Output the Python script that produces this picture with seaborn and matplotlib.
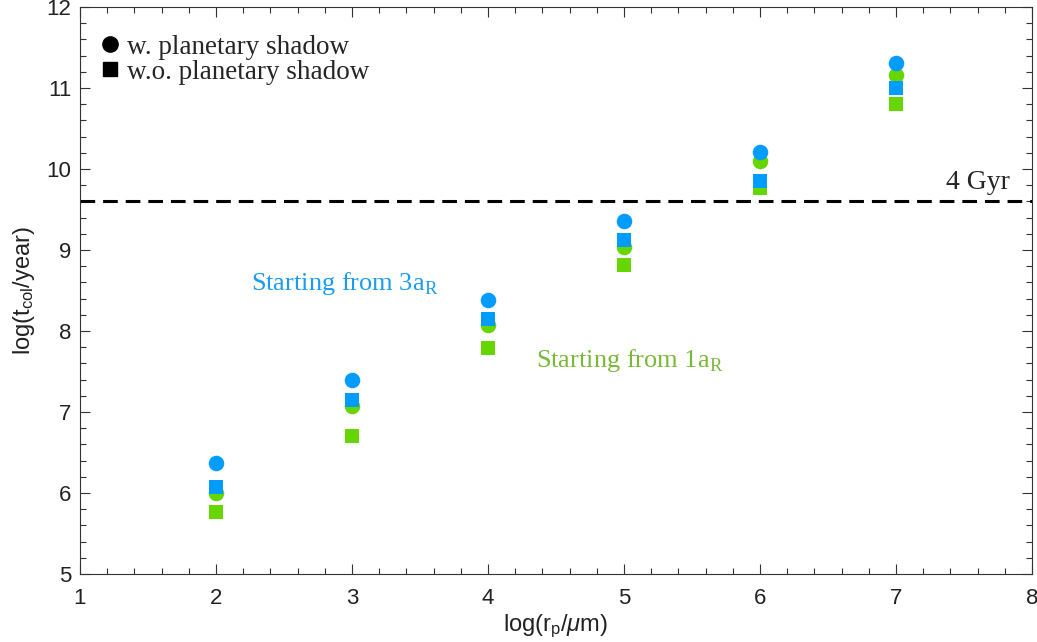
import numpy as np
import pandas as pd
import seaborn as sns
import matplotlib
matplotlib.use("Agg")
import matplotlib.pyplot as plt
from matplotlib.lines import Line2D
from matplotlib.ticker import MultipleLocator

# ---- data ----
log_rp = [2, 3, 4, 5, 6, 7]
blue_shadow = [6.37, 7.39, 8.38, 9.36, 10.21, 11.31]      # start 3aR, w. shadow
blue_noshadow = [6.07, 7.15, 8.15, 9.12, 9.85, 11.00]     # start 3aR, w.o. shadow
green_shadow = [6.00, 7.08, 8.07, 9.04, 10.10, 11.16]     # start 1aR, w. shadow
green_noshadow = [5.76, 6.70, 7.79, 8.81, 9.77, 10.80]    # start 1aR, w.o. shadow
gyr4 = np.log10(4e9)

BLUE = "#009cff"
GREEN = "#66d600"

sns.set_theme(style="ticks")
plt.rcParams["font.family"] = ["Liberation Sans", "DejaVu Sans"]
plt.rcParams["mathtext.fontset"] = "custom"
plt.rcParams["mathtext.rm"] = "Liberation Serif"
plt.rcParams["mathtext.sf"] = "Liberation Sans"
plt.rcParams["mathtext.it"] = "Liberation Sans:italic"

fig = plt.figure(figsize=(10.37, 6.42), dpi=100)
ax = fig.add_axes([0.0771, 0.1059, 0.9181, 0.8831])

def sc(y, color, marker, size):
    df = pd.DataFrame({"x": log_rp, "y": y})
    sns.scatterplot(data=df, x="x", y="y", ax=ax, color=color, marker=marker,
                    s=size, linewidth=0, legend=False, zorder=3)

sc(green_noshadow, GREEN, "s", 90)
sc(green_shadow, GREEN, "o", 125)
sc(blue_noshadow, BLUE, "s", 90)
sc(blue_shadow, BLUE, "o", 125)

ax.axhline(gyr4, color="black", lw=2.2, dashes=(4.8, 2.6), zorder=2)

serif = ["Liberation Serif", "DejaVu Serif"]
ax.text(7.84, 9.83, "4 Gyr", ha="right", va="center", fontsize=20, family=serif)
ax.text(2.26, 8.59, r"Starting from 3a$_\mathrm{R}$", ha="left", va="center",
        fontsize=19, family=serif, color="#1a9cf2")
ax.text(4.35, 7.64, r"Starting from 1a$_\mathrm{R}$", ha="left", va="center",
        fontsize=19, family=serif, color="#7ab83a")

handles = [Line2D([], [], marker="o", color="black", ls="none", markersize=11),
           Line2D([], [], marker="s", color="black", ls="none", markersize=9.5)]
ax.legend(handles, ["w. planetary shadow", "w.o. planetary shadow"],
          loc="upper left", frameon=False, prop={"family": serif, "size": 19.5},
          handlelength=1.0, handletextpad=0.15, borderaxespad=0.2,
          labelspacing=0.0, bbox_to_anchor=(0.0, 0.98))

ax.set_xlim(1, 8)
ax.set_ylim(5, 12)
ax.xaxis.set_major_locator(MultipleLocator(1))
ax.xaxis.set_minor_locator(MultipleLocator(0.2))
ax.yaxis.set_major_locator(MultipleLocator(1))
ax.yaxis.set_minor_locator(MultipleLocator(0.2))
ax.tick_params(which="both", direction="in", top=True, right=True,
               labelsize=16, color="#333333", labelcolor="#222222")
ax.tick_params(which="major", length=7, width=0.8)
ax.tick_params(which="minor", length=4, width=0.8)
ax.tick_params(axis="x", which="major", pad=10)
ax.tick_params(axis="y", which="major", pad=6)
for sp in ax.spines.values():
    sp.set_linewidth(0.8)
    sp.set_color("#333333")

ax.set_xlabel(r"log(r$_\mathsf{p}$/$\mu$m)", fontsize=17, labelpad=3, color="#222222")
ax.set_ylabel(r"log(t$_\mathsf{col}$/year)", fontsize=17, labelpad=7, color="#222222")

fig.savefig("out.png", dpi=100)
